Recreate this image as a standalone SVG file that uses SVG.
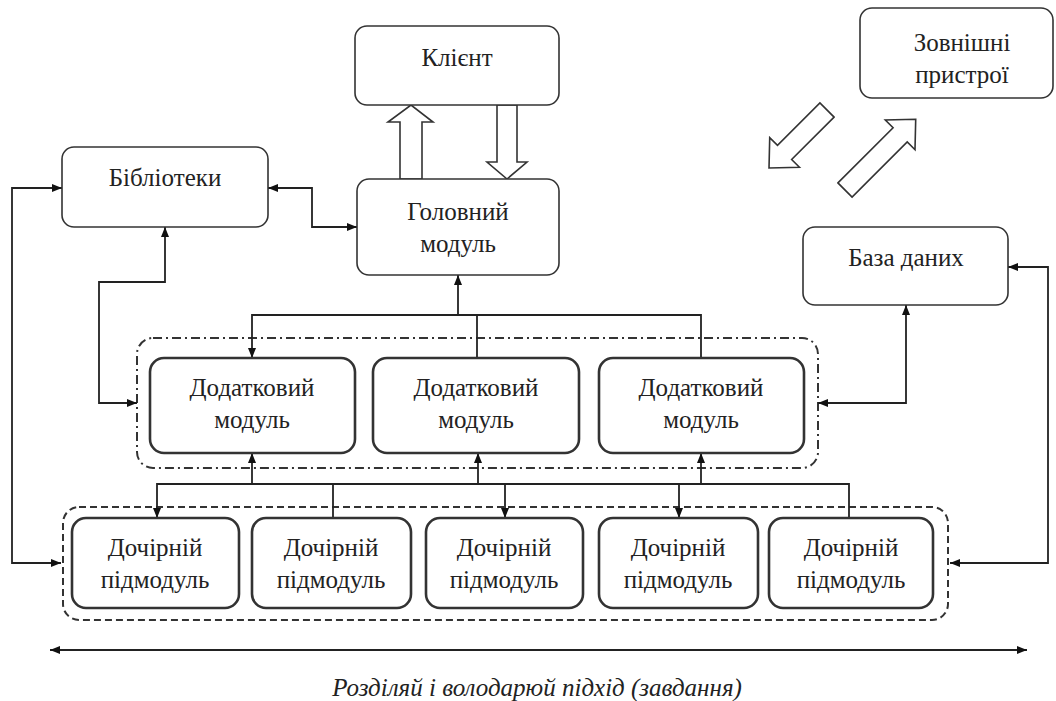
<svg xmlns="http://www.w3.org/2000/svg" width="1056" height="701" viewBox="0 0 1056 701" font-family="'Liberation Serif', 'DejaVu Serif', serif">
<style>
.box{fill:#fff;stroke:#333;stroke-width:1.6}
.bold{fill:#fff;stroke:#333;stroke-width:2.6}
text{font-family:'Liberation Serif', 'DejaVu Serif', serif}
.t{font-size:25px;fill:#222;text-anchor:middle}
.c{fill:none;stroke:#222;stroke-width:1.8}
.hollow{fill:#fff;stroke:#333;stroke-width:1.6}
.g1{fill:none;stroke:#333;stroke-width:2;stroke-dasharray:9,4,2,4}
.g2{fill:none;stroke:#333;stroke-width:2;stroke-dasharray:7,4}
</style>
<defs>
<marker id="ah" viewBox="0 0 10 8" refX="10" refY="4" markerWidth="10" markerHeight="8" markerUnits="userSpaceOnUse" orient="auto-start-reverse">
<path d="M0,0 L10,4 L0,8 Z" fill="#111"/>
</marker>
</defs>
<rect width="1056" height="701" fill="#fff"/>

<g id="groups">
<rect class="g1" x="137" y="338" width="681" height="130" rx="16"/>
<rect class="g2" x="63" y="507" width="885" height="113" rx="16"/>
</g>

<g id="connectors">
<path class="c" d="M268,188 H312 V227 H357" marker-start="url(#ah)" marker-end="url(#ah)"/>
<path class="c" d="M62,188 H12 V563 H61" marker-start="url(#ah)" marker-end="url(#ah)"/>
<path class="c" d="M165,227 V282 H99 V403 H137" marker-start="url(#ah)" marker-end="url(#ah)"/>
<path class="c" d="M906,305 V403 H818" marker-start="url(#ah)" marker-end="url(#ah)"/>
<path class="c" d="M1008,267 H1048 V563 H950" marker-start="url(#ah)" marker-end="url(#ah)"/>
<path class="c" d="M458,315 V275" marker-end="url(#ah)"/>
<path class="c" d="M252,358 V315 H701 V358" marker-start="url(#ah)"/>
<path class="c" d="M477,315 V358"/>
<path class="c" d="M252,484 V453" marker-end="url(#ah)"/>
<path class="c" d="M478,484 V453" marker-end="url(#ah)"/>
<path class="c" d="M701,484 V453" marker-end="url(#ah)"/>
<path class="c" d="M157,518 V484 H849 V518" marker-start="url(#ah)"/>
<path class="c" d="M333,484 V518"/>
<path class="c" d="M505,484 V518" marker-end="url(#ah)"/>
<path class="c" d="M679,484 V518" marker-end="url(#ah)"/>
<path class="c" d="M50,650 H1027" marker-start="url(#ah)" marker-end="url(#ah)"/>
<polygon class="hollow" points="400,179 400,122 388,122 411,105 433,122 422,122 422,179"/>
<polygon class="hollow" points="497,105 497,162 487,162 507,179 527,162 517,162 517,105"/>
<polygon class="hollow" transform="translate(827,110) rotate(135)" points="0,-10 60,-10 60,-21 82,0 60,21 60,10 0,10"/>
<polygon class="hollow" transform="translate(845,190) rotate(-45)" points="0,-10 78,-10 78,-21 100,0 78,21 78,10 0,10"/>
</g>

<g id="client"><rect class="box" x="355" y="26" width="204" height="79" rx="12"/><text class="t" x="457" y="66">Клієнт</text></g>
<g id="external"><rect class="box" x="860" y="8" width="193" height="90" rx="12"/><text class="t" x="962" y="51">Зовнішні</text><text class="t" x="962" y="83">пристрої</text></g>
<g id="libraries"><rect class="box" x="62" y="147" width="206" height="80" rx="12"/><text class="t" x="165" y="186">Бібліотеки</text></g>
<g id="main"><rect class="box" x="357" y="179" width="202" height="96" rx="12"/><text class="t" x="458" y="220">Головний</text><text class="t" x="458" y="252">модуль</text></g>
<g id="database"><rect class="box" x="803" y="227" width="205" height="78" rx="12"/><text class="t" x="906" y="266">База даних</text></g>

<g id="add1"><rect class="bold" x="150" y="358" width="205" height="95" rx="14"/><text class="t" x="252" y="396">Додатковий</text><text class="t" x="252" y="428">модуль</text></g>
<g id="add2"><rect class="bold" x="373" y="358" width="206" height="95" rx="14"/><text class="t" x="476" y="396">Додатковий</text><text class="t" x="476" y="428">модуль</text></g>
<g id="add3"><rect class="bold" x="599" y="358" width="205" height="95" rx="14"/><text class="t" x="701" y="396">Додатковий</text><text class="t" x="701" y="428">модуль</text></g>

<g id="child1"><rect class="bold" x="72" y="518" width="167" height="90" rx="14"/><text class="t" x="155" y="556">Дочірній</text><text class="t" x="155" y="588">підмодуль</text></g>
<g id="child2"><rect class="bold" x="252" y="518" width="159" height="90" rx="14"/><text class="t" x="331" y="556">Дочірній</text><text class="t" x="331" y="588">підмодуль</text></g>
<g id="child3"><rect class="bold" x="426" y="518" width="157" height="90" rx="14"/><text class="t" x="504" y="556">Дочірній</text><text class="t" x="504" y="588">підмодуль</text></g>
<g id="child4"><rect class="bold" x="599" y="518" width="159" height="90" rx="14"/><text class="t" x="678" y="556">Дочірній</text><text class="t" x="678" y="588">підмодуль</text></g>
<g id="child5"><rect class="bold" x="769" y="518" width="164" height="90" rx="14"/><text class="t" x="851" y="556">Дочірній</text><text class="t" x="851" y="588">підмодуль</text></g>

<g id="caption"><text class="t" x="537" y="696" font-style="italic">Розділяй і володарюй підхід (завдання)</text></g>
</svg>
